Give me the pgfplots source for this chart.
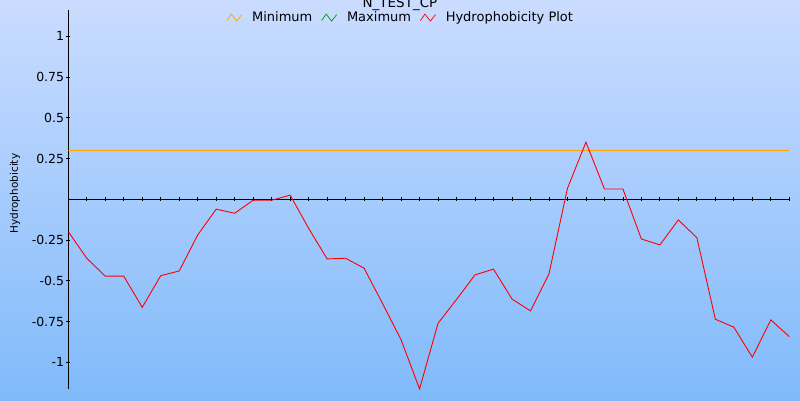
\documentclass[border=0pt]{standalone}
\usepackage{pgfplots}
\pgfplotsset{compat=1.18}
\usepackage{pgfplotstable}
\usepackage{fontspec}
\setmainfont{DejaVu Sans}
\definecolor{bgtop}{RGB}{202,220,255}
\definecolor{bgbot}{RGB}{128,186,250}
\definecolor{minorange}{RGB}{255,165,0}
\definecolor{maxgreen}{RGB}{0,150,0}
\pgfplotstableread{
x y
0 -0.199
1 -0.362
2 -0.472
3 -0.472
4 -0.663
5 -0.469
6 -0.440
7 -0.219
8 -0.061
9 -0.086
10 -0.006
11 -0.006
12 0.025
13 -0.178
14 -0.366
15 -0.362
16 -0.423
17 -0.640
18 -0.862
19 -1.164
20 -0.761
21 -0.615
22 -0.464
23 -0.429
24 -0.612
25 -0.685
26 -0.458
27 0.067
28 0.350
29 0.063
30 0.063
31 -0.244
32 -0.280
33 -0.127
34 -0.236
35 -0.736
36 -0.785
37 -0.969
38 -0.740
39 -0.843
}\hydro
\begin{document}
\begin{tikzpicture}[x=1pt,y=1pt]
\useasboundingbox (0,0) rectangle (800,400);
\shade[top color=bgtop,bottom color=bgbot] (0,0) rectangle (800,400);
\begin{axis}[
  at={(68.3pt,10.7pt)}, anchor=south west, scale only axis,
  width=721pt, height=379.3pt,
  xmin=0, xmax=39, ymin=-1.166, ymax=1.161,
  axis lines=middle,
  axis line style={-, line width=1pt, black},
  xtick={1,...,39}, xticklabels={},
  ytick={-1,-0.75,-0.5,-0.25,0.25,0.5,0.75,1},
  tick align=center, major tick length=4pt,
  every tick/.style={black, line width=0.8pt},
  yticklabel style={font=\fontsize{12.5}{14}\selectfont, inner sep=1pt, xshift=-1pt,
    /pgf/number format/fixed, /pgf/number format/precision=2,
    /pgf/number format/assume math mode=true},
  ylabel={Hydrophobicity},
  every axis y label/.style={at={(axis description cs:0,0.516)}, xshift=-53.3pt,
    rotate=90, anchor=center, font=\fontsize{10.5}{12}\selectfont},
  title={N\_TEST\_CP},
  title style={at={(axis description cs:0.46,1)}, anchor=base, yshift=-4pt,
    font=\fontsize{13.5}{15}\selectfont},
  legend columns=-1,
  legend style={at={(axis description cs:0.461,0.980)}, anchor=center,
    draw=none, fill=none, font=\fontsize{13}{15}\selectfont,
    /tikz/every odd column/.append style={column sep=8pt},
    /tikz/every even column/.append style={column sep=7pt}},
  legend image code/.code={\draw[#1, line width=0.7pt] (0pt,-3pt) -- (4.5pt,3.5pt) -- (10pt,-3.5pt) -- (15pt,3pt);},
]
\addplot[minorange, line width=1.2pt] coordinates {(0,0.3) (39,0.3)};
\addlegendentry{Minimum}
\addlegendimage{maxgreen}
\addlegendentry{Maximum}
\addplot[red, line width=0.9pt] table[x=x,y=y] {\hydro};
\addlegendentry{Hydrophobicity Plot}
\end{axis}
\end{tikzpicture}
\end{document}
